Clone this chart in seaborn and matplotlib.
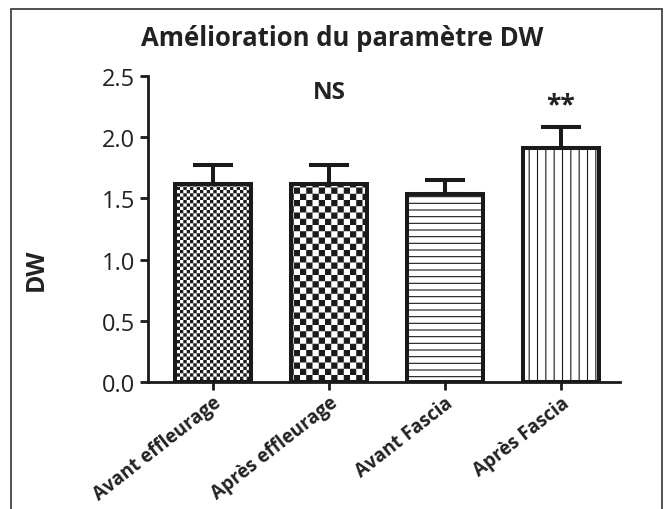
import warnings
warnings.filterwarnings("ignore")

import numpy as np
import matplotlib
matplotlib.use("Agg")
import matplotlib.pyplot as plt
import matplotlib.hatch as mhatch
from matplotlib.path import Path
from matplotlib.patches import Rectangle
import seaborn as sns

# ---------------- data ----------------
categories = ["Avant effleurage", "Après effleurage", "Avant Fascia", "Après Fascia"]
means = [1.62, 1.62, 1.54, 1.91]
sem = [0.15, 0.15, 0.11, 0.17]
annotations = ["", "NS", "", "**"]
yticks = [0.0, 0.5, 1.0, 1.5, 2.0, 2.5]
title = "Amélioration du paramètre DW"
ylabel = "DW"

# ---------------- custom hatch patterns ----------------
HATCH_LW = 0.8  # points
DPI = 100
_shrink = (HATCH_LW * DPI / 72.0) / 2.0 / DPI


class CheckerHatch(mhatch.HatchPatternBase):
    filled = True

    def __init__(self, hatch, density):
        n = 0
        if "c" in hatch:
            n = 30
        elif "k" in hatch:
            n = 16
        self.n = n
        self.num_vertices = (n * n // 2) * 5 if n else 0

    def set_vertices_and_codes(self, vertices, codes):
        n = self.n
        s = 1.0 / n
        d = _shrink
        k = 0
        for i in range(n):
            for j in range(n):
                if (i + j) % 2 == 0:
                    x0, y0 = i * s + d, j * s + d
                    x1, y1 = (i + 1) * s - d, (j + 1) * s - d
                    vertices[k:k + 5] = [(x0, y0), (x1, y0), (x1, y1), (x0, y1), (x0, y0)]
                    codes[k] = Path.MOVETO
                    codes[k + 1:k + 4] = Path.LINETO
                    codes[k + 4] = Path.CLOSEPOLY
                    k += 5


class LineHatch(mhatch.HatchPatternBase):
    def __init__(self, hatch, density):
        self.nh = 15 if "h" in hatch else 0
        self.nv = 12 if "v" in hatch else 0
        self.num_vertices = 2 * (self.nh + self.nv)

    def set_vertices_and_codes(self, vertices, codes):
        k = 0
        if self.nh:
            step = 1.0 / self.nh
            for i in range(self.nh):
                y = i * step + step / 2
                vertices[k] = (0.0, y)
                vertices[k + 1] = (1.0, y)
                codes[k] = Path.MOVETO
                codes[k + 1] = Path.LINETO
                k += 2
        if self.nv:
            step = 1.0 / self.nv
            for i in range(self.nv):
                x = i * step + step / 2
                vertices[k] = (x, 0.0)
                vertices[k + 1] = (x, 1.0)
                codes[k] = Path.MOVETO
                codes[k + 1] = Path.LINETO
                k += 2


mhatch._hatch_types.extend([CheckerHatch, LineHatch])
hatches = ["c", "k", "h", "v"]

# ---------------- style ----------------
sns.set_style("ticks")
plt.rcParams["font.family"] = ["Open Sans", "DejaVu Sans"]
plt.rcParams["hatch.linewidth"] = HATCH_LW
plt.rcParams["hatch.color"] = "#1a1a1a"

ink = "#1a1a1a"
txt = "#222222"

fig = plt.figure(figsize=(6.71, 5.10), dpi=DPI)
ax = fig.add_axes([148 / 671, 1 - 383 / 510, (620 - 148) / 671, (383 - 77) / 510])

sns.barplot(x=categories, y=means, ax=ax, color="white", saturation=1,
            edgecolor=ink, linewidth=2.9, width=0.655, errorbar=None, zorder=3)

for patch, h in zip(ax.patches, hatches):
    patch.set_hatch(h)
    patch.set_joinstyle("miter")
    patch.set_edgecolor(ink)

ax.errorbar(x=np.arange(len(means)), y=means, yerr=[np.zeros(len(sem)), sem],
            fmt="none", ecolor=ink, elinewidth=2.9, capsize=14.6, capthick=2.9,
            zorder=2)

for i, (m, s, a) in enumerate(zip(means, sem, annotations)):
    if a == "NS":
        ax.text(i, 2.32, a, ha="center", va="baseline", fontsize=17.5,
                fontweight="bold", color=txt)
    elif a:
        ax.text(i, 2.20, a, ha="center", va="baseline", fontsize=19,
                fontweight="bold", color=txt)

ax.set_ylim(0, 2.5)
ax.set_xlim(-0.56, 3.51)
ax.set_yticks(yticks)
ax.set_yticklabels([f"{v:.1f}" for v in yticks], fontsize=17, color=txt)
ax.set_xticks(range(len(categories)))
ax.set_xticklabels(categories, rotation=38, ha="right", va="top",
                   rotation_mode="anchor", fontsize=13.5, fontweight="bold", color=txt)

for sp in ["top", "right"]:
    ax.spines[sp].set_visible(False)
for sp in ["left", "bottom"]:
    ax.spines[sp].set_linewidth(2.0)
    ax.spines[sp].set_color(ink)
ax.tick_params(axis="both", width=2.0, length=5.5, color=ink, pad=4)
ax.tick_params(axis="x", pad=2)

ax.set_xlabel("")
ax.set_ylabel(ylabel, fontsize=18, fontweight="bold", color=txt, va="center")
ax.yaxis.set_label_coords(-0.237, 0.37)

fig.text(0.51, 1 - 46 / 510, title, ha="center", va="baseline",
         fontsize=18.5, fontweight="bold", color=txt)

frame = Rectangle((11 / 671, -0.05), (662 - 11) / 671, 1 - 10 / 510 + 0.05,
                  transform=fig.transFigure, fill=False, edgecolor="#333333",
                  linewidth=1.2, clip_on=False)
fig.patches.append(frame)

fig.savefig("out.png", dpi=DPI, facecolor="white")
